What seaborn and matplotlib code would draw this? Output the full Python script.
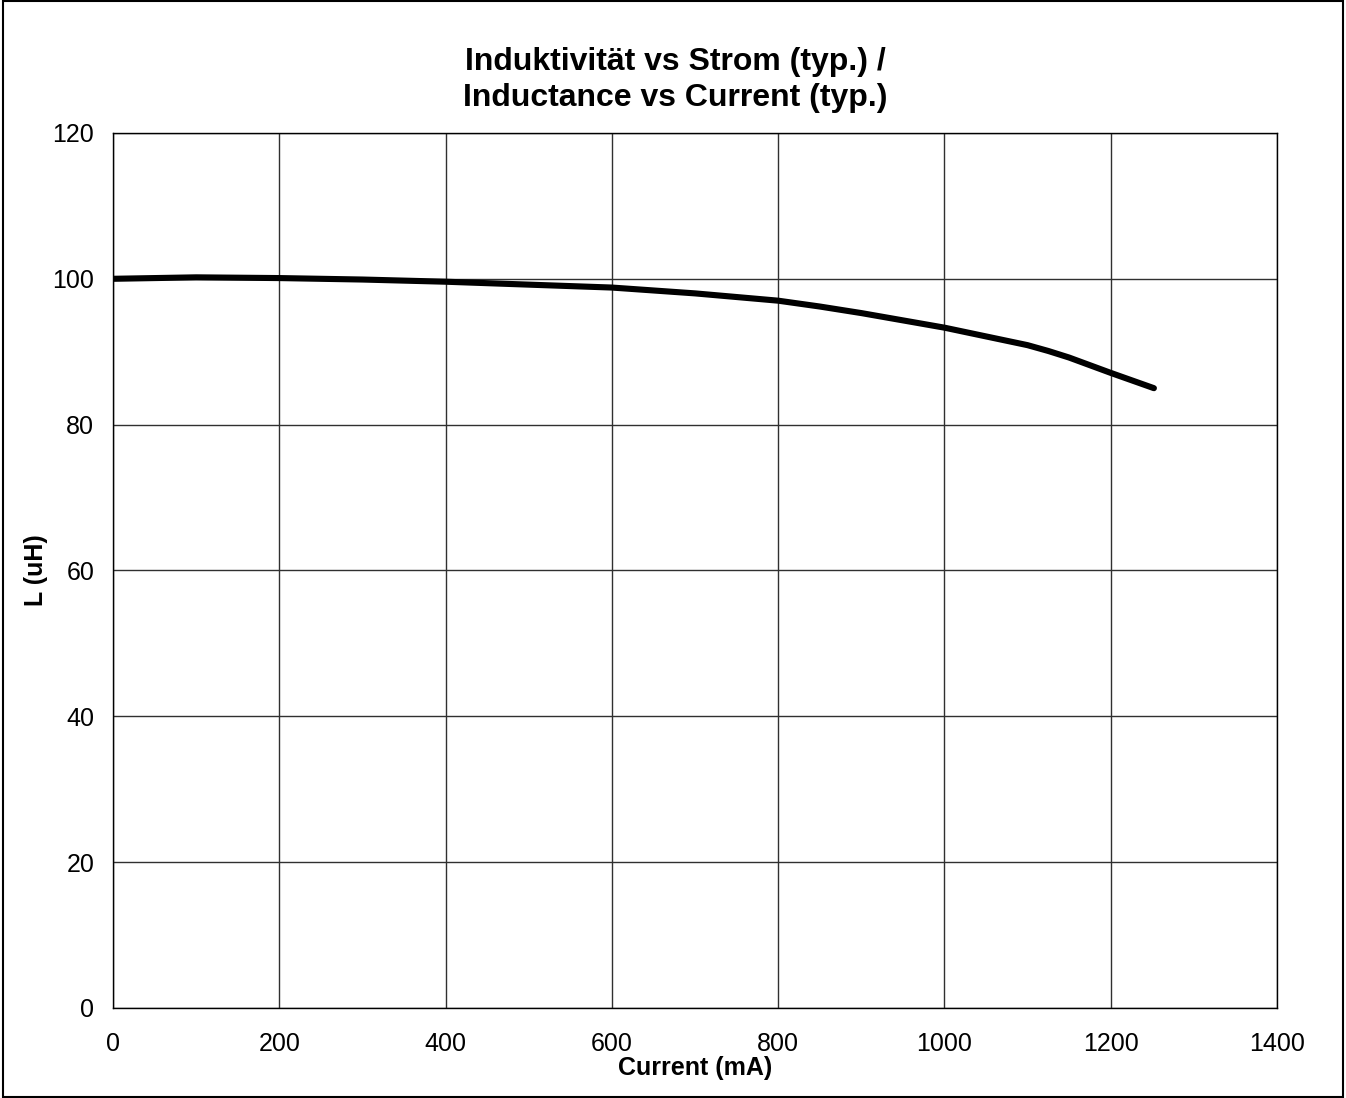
import matplotlib
matplotlib.use("Agg")
import matplotlib.pyplot as plt
import seaborn as sns
import pandas as pd
from matplotlib.patches import Rectangle

# values
current_ma = [0, 100, 200, 300, 400, 500, 600, 700, 800, 850, 900, 950, 1000,
              1050, 1100, 1125, 1150, 1200, 1252]
inductance_uh = [100.0, 100.2, 100.1, 99.9, 99.6, 99.2, 98.8, 98.0, 97.0, 96.2, 95.3,
                 94.3, 93.3, 92.1, 90.9, 90.1, 89.2, 87.1, 85.0]
x_ticks = [0, 200, 400, 600, 800, 1000, 1200, 1400]
y_ticks = [0, 20, 40, 60, 80, 100, 120]

df = pd.DataFrame({"Current (mA)": current_ma, "L (uH)": inductance_uh})

sns.set_style("white")
plt.rcParams["font.family"] = ["Liberation Sans", "DejaVu Sans"]

fig = plt.figure(figsize=(13.46, 10.98), dpi=100)
ax = fig.add_axes([0.084, 0.082, 0.8647, 0.7969])

sns.lineplot(data=df, x="Current (mA)", y="L (uH)", color="black", linewidth=4.4,
             solid_capstyle="round", solid_joinstyle="round", ax=ax)

ax.set_xlim(0, 1400)
ax.set_ylim(0, 120)
ax.set_xticks(x_ticks)
ax.set_yticks(y_ticks)
ax.grid(True, color="#303030", linewidth=1.0)
ax.set_axisbelow(True)
for s in ax.spines.values():
    s.set_color("black")
    s.set_linewidth(1.0)
ax.tick_params(axis="both", direction="out", length=5.5, width=1.0, color="black",
               labelsize=18, labelcolor="black")
ax.tick_params(axis="x", pad=12)
ax.tick_params(axis="y", pad=8)
ax.set_xlabel("Current (mA)", fontsize=18, fontweight="bold", labelpad=0, color="black")
ax.set_ylabel("L (uH)", fontsize=18, fontweight="bold", labelpad=3, color="black")

fig.text(0.502, 0.927, "Induktivität vs Strom (typ.) /\nInductance vs Current (typ.)",
         ha="center", va="center", fontsize=23, fontweight="bold", linespacing=1.25,
         color="black")

fig.patches.append(Rectangle((0.002, 0.001), 0.996, 0.998, transform=fig.transFigure,
                             fill=False, edgecolor="black", linewidth=1.5))

fig.savefig("out.png", dpi=100)
